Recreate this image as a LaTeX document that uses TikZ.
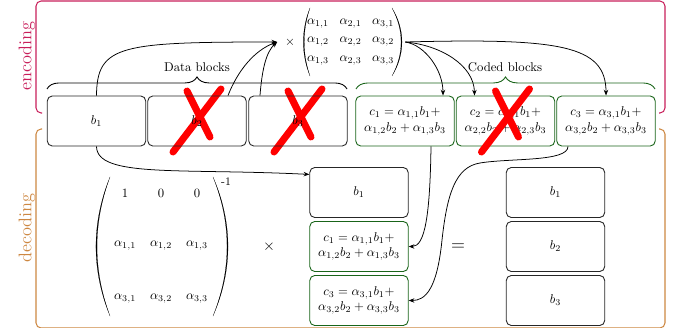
\documentclass[tikz,border=0pt]{standalone}
\usetikzlibrary{decorations.pathreplacing,arrows.meta,matrix,calc}
\definecolor{enccol}{RGB}{200,30,90}
\definecolor{deccol}{RGB}{205,135,65}
\definecolor{codegreen}{RGB}{25,100,25}
\definecolor{xred}{RGB}{255,0,0}
\tikzset{
  redcross/.pic={
    \draw[xred, line width=5.5pt, line cap=round] (24,-32) -- (-24,31);
    \draw[xred, line width=5.5pt, line cap=round] (-10,-30) -- (13,16);
  }
}
\begin{document}
\begin{tikzpicture}[x=0.787pt,y=-0.787pt,
  blk/.style={draw=black!85, line width=0.7pt, rounded corners=4pt, minimum width=77.5pt, minimum height=39.4pt, inner sep=0pt, align=center},
  cblk/.style={blk, draw=codegreen},
  conn/.style={-{Stealth[length=4.5pt,width=3.5pt]}, line width=0.6pt},
  brc/.style={decorate, decoration={brace, amplitude=9.5pt}, line width=0.7pt},
  frm/.style={line width=0.8pt, rounded corners=4pt},
  parfill/.style={fill=black, draw=black, line width=0.1pt}
]
\useasboundingbox (0,0) rectangle (679,328);

% frames
\draw[enccol, frm] (42,113) -- (36,113) -- (36,1) -- (665,1) -- (665,113) -- (659,113);
\draw[deccol, frm] (42,129) -- (36,129) -- (36,328) -- (665,328) -- (665,129) -- (659,129);
\node[rotate=90, text=enccol, font=\Large] (enclab) at (27,56) {encoding};
\node[rotate=90, text=deccol, font=\Large] (declab) at (27,228) {decoding};

% crosses behind data labels
\pic at (197,121) {redcross};
\pic at (298,121) {redcross};

% top blocks
\node[blk] (b1) at (96.5,121) {$b_1$};
\node[blk] (b2) at (197,121) {$b_2$};
\node[blk] (b3) at (298,121) {$b_3$};
\node[cblk] (c1) at (405,121) {$c_1=\alpha_{1,1}b_1+$\\$\alpha_{1,2}b_2+\alpha_{1,3}b_3$};
\node[cblk] (c2) at (505.5,121) {$c_2=\alpha_{2,1}b_1+$\\$\alpha_{2,2}b_2+\alpha_{2,3}b_3$};
\node[cblk] (c3) at (606,121) {$c_3=\alpha_{3,1}b_1+$\\$\alpha_{3,2}b_2+\alpha_{3,3}b_3$};
\pic at (505.5,121) {redcross};

% braces
\draw[brc] (47,89) -- (347,89);
\node (dlab) at (197,67) {Data blocks};
\draw[brc, codegreen] (356,89) -- (655,89);
\node (clab) at (505,67) {Coded blocks};

% top matrix
\node[inner sep=6pt] (times) at (290,42) {$\times$};
\matrix (Mtop) [matrix of math nodes, inner sep=4.5pt, row sep=0pt, column sep=0pt,
  nodes={minimum width=25.6pt, minimum height=14.6pt, inner sep=0pt, anchor=center}] at (350.5,42) {
\alpha_{1,1} & \alpha_{2,1} & \alpha_{3,1}\\
\alpha_{1,2} & \alpha_{2,2} & \alpha_{3,2}\\
\alpha_{1,3} & \alpha_{2,3} & \alpha_{3,3}\\
};
\path[parfill] (310,8) .. controls (301.1,30) and (301.1,54) .. (310,76) .. controls (302.3,54) and (302.3,30) .. cycle;
\path[parfill] (392,8) .. controls (405.3,30) and (405.3,54) .. (392,76) .. controls (404.1,54) and (404.1,30) .. cycle;

% encoding arrows
\draw[conn] (b1.north) .. controls (97,45) and (120,42) .. (times.west);
\draw[conn] ($(b2.north)+(31,0)$) .. controls (238,70) and (255,50) .. (times.west);
\draw[conn] ($(b3.north)+(-38,0)$) .. controls (262,70) and (266,52) .. (times.west);
\draw[conn] (Mtop.east) .. controls (425,45) and (443,70) .. ($(c1.north)+(38,0)$);
\draw[conn] (Mtop.east) .. controls (440,45) and (474,65) .. ($(c2.north)+(-31,0)$);
\draw[conn] (Mtop.east) .. controls (560,38) and (606,45) .. (c3.north);

% decoding
\matrix (Mbot) [matrix of math nodes, inner sep=0pt, row sep=0pt, column sep=0pt,
  nodes={minimum width=28.3pt, minimum height=41.7pt, inner sep=0pt, anchor=center}] at (161,246) {
1 & 0 & 0\\
\alpha_{1,1} & \alpha_{1,2} & \alpha_{1,3}\\
\alpha_{3,1} & \alpha_{3,2} & \alpha_{3,3}\\
};
\path[parfill] (110,177) .. controls (91.3,223) and (91.3,270) .. (110,316) .. controls (92.7,270) and (92.7,223) .. cycle;
\path[parfill] (213,177) .. controls (233,223) and (233,270) .. (213,316) .. controls (231.7,270) and (231.7,223) .. cycle;
\node[font=\small, inner sep=0pt] (inv) at (226,182) {-1};
\node[font=\large] (times2) at (269,247) {$\times$};

\node[blk] (b1d) at (359,192.5) {$b_1$};
\node[cblk] (c1d) at (359,246.5) {$c_1=\alpha_{1,1}b_1+$\\$\alpha_{1,2}b_2+\alpha_{1,3}b_3$};
\node[cblk] (c3d) at (359,300.5) {$c_3=\alpha_{3,1}b_1+$\\$\alpha_{3,2}b_2+\alpha_{3,3}b_3$};

\node[font=\Large] (eq) at (458,247) {$=$};
\node[blk] (r1) at (555.5,192.5) {$b_1$};
\node[blk] (r2) at (555.5,246.5) {$b_2$};
\node[blk] (r3) at (555.5,300.5) {$b_3$};

% decoding arrows
\draw[conn] (b1.south) .. controls (97,178) and (180,168) .. (b1d.160);
\draw[conn] ($(c1.south)+(26,0)$) .. controls (430,215) and (425,246.5) .. (c1d.east);
\draw[conn] ($(c3.south)+(-38,0)$) .. controls (568,162) and (510,158) .. (480,163) .. controls (455,167) and (447,195) .. (442,240) .. controls (437,290) and (425,300.5) .. (c3d.east);
\end{tikzpicture}
\end{document}
